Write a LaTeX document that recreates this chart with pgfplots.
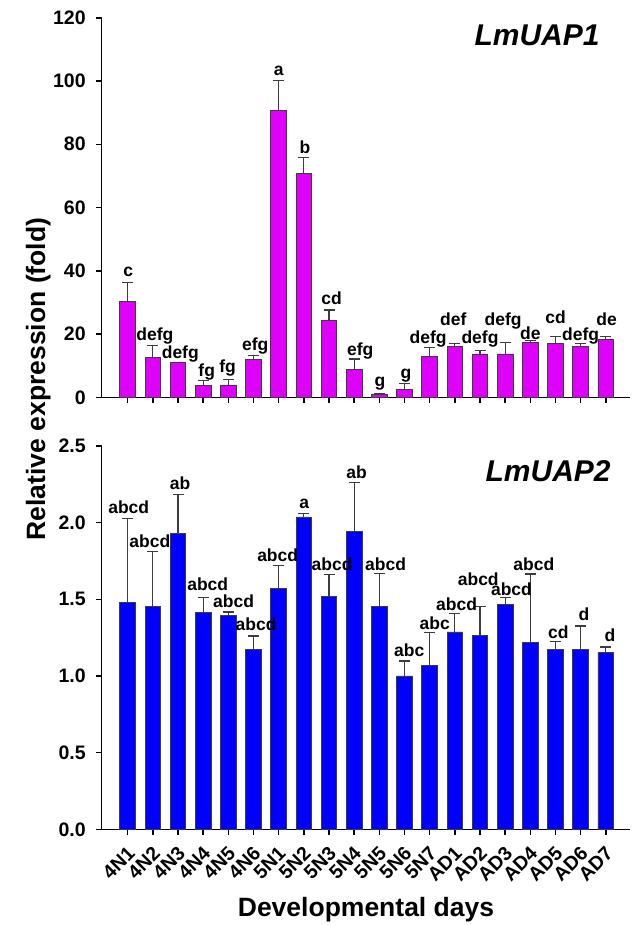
\documentclass[border=0pt]{standalone}
\usepackage{pgfplots}
\pgfplotsset{compat=1.18}
\usepackage{pgfplotstable}
\usepackage{fontspec}
\setmainfont{Liberation Sans}
\setsansfont{Liberation Sans}

\definecolor{uapone}{RGB}{222,0,250}
\definecolor{uaptwo}{RGB}{0,0,255}
\definecolor{errgray}{RGB}{60,60,60}

% x  y  err  lx  ly  lab
\pgfplotstableread{
x  y     err   lx     ly     lab
0  30.2  6.1   0.02   38.1   c
1  12.6  3.7   1.08   18.1   defg
2  10.9  0.2   2.09   12.3   defg
3  3.6   1.8   3.14   6.7    fg
4  3.9   1.8   3.97   7.8    fg
5  12.0  1.2   5.07   14.9   efg
6  90.8  9.4   6.00   101.8  a
7  70.9  4.9   7.04   77.1   b
8  24.2  3.4   8.10   29.2   cd
9  8.9   3.2   9.24   13.1   efg
10 0.9   0.4   10.02  3.4    g
11 2.5   1.9   11.06  6.0    g
12 12.8  2.9   11.94  17.1   defg
13 16.2  0.9   12.94  22.8   def
14 13.7  1.2   14.00  17.1   defg
15 13.7  3.5   14.92  22.8   defg
16 17.4  0.5   16.00  18.3   de
17 17.1  2.0   17.00  23.4   cd
18 16.0  0.9   18.00  17.9   defg
19 18.3  0.8   19.03  22.8   de
}\uapone

\pgfplotstableread{
x  y      err    lx     ly     lab
0  1.478  0.548  0.04   2.061  abcd
1  1.452  0.357  0.88   1.837  abcd
2  1.930  0.255  2.08   2.217  ab
3  1.417  0.092  3.18   1.557  abcd
4  1.396  0.021  4.21   1.448  abcd
5  1.174  0.087  5.10   1.296  abcd
6  1.570  0.150  5.96   1.748  abcd
7  2.037  0.020  7.02   2.093  a
8  1.517  0.146  8.12   1.691  abcd
9  1.941  0.322  9.10   2.289  ab
10 1.452  0.215  10.25  1.691  abcd
11 1.000  0.098  11.19  1.130  abc
12 1.067  0.216  12.20  1.300  abc
13 1.287  0.122  13.07  1.426  abcd
14 1.263  0.189  13.93  1.593  abcd
15 1.465  0.044  15.25  1.522  abcd
16 1.220  0.445  16.14  1.687  abcd
17 1.174  0.050  17.11  1.246  cd
18 1.174  0.152  18.13  1.361  d
19 1.154  0.035  19.16  1.224  d
}\uaptwo

\pgfplotsset{
  panel/.style={
    scale only axis,
    width=528.3pt,
    xmin=-1.033, xmax=19.96,
    axis x line=bottom, axis y line=left,
    axis line style={line width=1.5pt, -},
    x axis line style={shorten <=-5pt},
    tick style={line width=1.5pt, black},
    major tick length=5.5pt,
    tick align=outside,
    xtick={0,...,19},
    ytick pos=left, xtick pos=bottom,
    clip=false,
    /pgf/number format/assume math mode=true,
    tick label style={font=\bfseries\fontsize{19.5}{19.5}\selectfont},
    yticklabel style={xshift=-7pt},
  },
  bars/.style={
    ybar, bar width=15.7pt, draw=errgray, line width=0.9pt,
    error bars/y dir=plus, error bars/y explicit,
    error bars/error bar style={line width=1.1pt, errgray},
    error bars/error mark options={rotate=90, mark size=5.5pt, line width=1.1pt, errgray},
  },
  letters/.style={
    draw=none, mark=none, nodes near coords, point meta=explicit symbolic,
    every node near coord/.append style={anchor=base, inner sep=0pt,
      font=\bfseries\fontsize{17.5}{17.5}\selectfont, text=black},
  },
}

\begin{document}
\begin{tikzpicture}[x=1pt, y=1pt]
\useasboundingbox (0pt,0pt) rectangle (632pt,925pt);

\begin{axis}[panel,
  at={(101.7pt,527.7pt)}, anchor=south west,
  height=379.5pt,
  ymin=0, ymax=120, ytick={0,20,...,120},
  xticklabels={},
]
\addplot[bars, fill=uapone] table[x=x, y=y, y error=err] {\uapone};
\addplot[letters] table[x=lx, y=ly, meta=lab] {\uapone};
\node[anchor=base, font=\bfseries\itshape\fontsize{30}{30}\selectfont]
  at (rel axis cs:0.824,0.927) {LmUAP1};
\end{axis}

\begin{axis}[panel,
  at={(101.7pt,95.7pt)}, anchor=south west,
  height=383.3pt,
  ymin=0, ymax=2.5, ytick={0,0.5,...,2.5},
  yticklabel style={/pgf/number format/.cd, fixed, fixed zerofill, precision=1},
  xticklabels={4N1,4N2,4N3,4N4,4N5,4N6,5N1,5N2,5N3,5N4,5N5,5N6,5N7,AD1,AD2,AD3,AD4,AD5,AD6,AD7},
  xticklabel style={xshift=6pt, yshift=-13pt, rotate=45, anchor=east,
    font=\bfseries\fontsize{19.5}{19.5}\selectfont},
]
\addplot[bars, fill=uaptwo] table[x=x, y=y, y error=err] {\uaptwo};
\addplot[letters] table[x=lx, y=ly, meta=lab] {\uaptwo};
\node[anchor=base, font=\bfseries\itshape\fontsize{30}{30}\selectfont]
  at (rel axis cs:0.845,0.908) {LmUAP2};
\end{axis}

\node[anchor=base, font=\bfseries\fontsize{26.5}{26.5}\selectfont]
  at (366pt,8.3pt) {Developmental days};
\node[anchor=base, rotate=90, font=\bfseries\fontsize{26.5}{26.5}\selectfont]
  at (45pt,546pt) {Relative expression (fold)};
\end{tikzpicture}
\end{document}
